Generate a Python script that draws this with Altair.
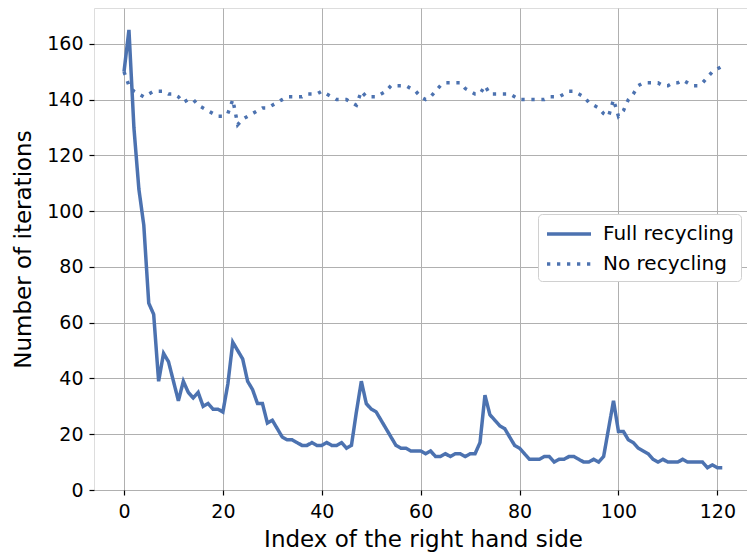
import altair as alt
import pandas as pd

x_index = list(range(122))

full_recycling = [
    150, 165, 130, 108, 95, 67, 63, 39, 49, 46,
    39, 32, 39, 35, 33, 35, 30, 31, 29, 29,
    28, 38, 53, 50, 47, 39, 36, 31, 31, 24,
    25, 22, 19, 18, 18, 17, 16, 16, 17, 16,
    16, 17, 16, 16, 17, 15, 16, 28, 39, 31,
    29, 28, 25, 22, 19, 16, 15, 15, 14, 14,
    14, 13, 14, 12, 12, 13, 12, 13, 13, 12,
    13, 13, 17, 34, 27, 25, 23, 22, 19, 16,
    15, 13, 11, 11, 11, 12, 12, 10, 11, 11,
    12, 12, 11, 10, 10, 11, 10, 12, 22, 32,
    21, 21, 18, 17, 15, 14, 13, 11, 10, 11,
    10, 10, 10, 11, 10, 10, 10, 10, 8, 9, 8, 8,
]

no_recycling = [
    150, 145, 143, 142, 141, 142, 143, 143, 143, 142,
    142, 141, 139, 140, 140, 138, 137, 136, 135, 134,
    134, 135, 140, 131, 133, 134, 135, 136, 137, 137,
    138, 139, 140, 141, 141, 141, 141, 142, 142, 142,
    143, 142, 141, 140, 140, 140, 139, 138, 143, 141,
    141, 141, 142, 143, 145, 145, 145, 145, 144, 143,
    141, 140, 141, 143, 145, 146, 146, 146, 146, 144,
    143, 142, 142, 145, 142, 142, 142, 142, 142, 141,
    140, 140, 140, 140, 140, 140, 141, 141, 141, 142,
    143, 143, 142, 141, 139, 138, 137, 135, 134, 140,
    134, 136, 140, 142, 145, 146, 146, 146, 146, 145,
    145, 146, 146, 147, 146, 145, 145, 146, 148, 150, 151, 152,
]

series_names = ["Full recycling", "No recycling"]
x_ticks = [0, 20, 40, 60, 80, 100, 120]
y_ticks = [0, 20, 40, 60, 80, 100, 120, 140, 160]

df = pd.DataFrame({
    "index": x_index + x_index,
    "iterations": full_recycling + no_recycling,
    "series": [series_names[0]] * len(x_index) + [series_names[1]] * len(x_index),
})

FONT = "DejaVu Sans"
BLUE = "#4c72b0"

chart = alt.Chart(df).mark_line(color=BLUE, strokeWidth=3.5, strokeCap="butt").encode(
    x=alt.X(
        "index:Q",
        scale=alt.Scale(domain=[-6.07, 126.0], nice=False, zero=False),
        axis=alt.Axis(
            title="Index of the right hand side",
            values=x_ticks,
            format="d",
            grid=True,
            gridColor="#b0b0b0",
            gridWidth=1,
            domain=False,
            tickColor="black",
            tickSize=5,
            tickWidth=1.2,
            labelFont=FONT,
            labelFontSize=19,
            labelColor="black",
            labelPadding=7,
            titleFont=FONT,
            titleFontSize=23,
            titleFontWeight="normal",
            titleColor="black",
            titlePadding=7,
            titleX=329,
        ),
    ),
    y=alt.Y(
        "iterations:Q",
        scale=alt.Scale(domain=[0, 172.85], nice=False, zero=False),
        axis=alt.Axis(
            title="Number of iterations",
            values=y_ticks,
            format="d",
            grid=True,
            gridColor="#b0b0b0",
            gridWidth=1,
            domain=False,
            tickColor="black",
            tickSize=5,
            tickWidth=1.2,
            labelFont=FONT,
            labelFontSize=19,
            labelColor="black",
            labelPadding=6,
            titleFont=FONT,
            titleFontSize=23,
            titleFontWeight="normal",
            titleColor="black",
            titlePadding=11,
        ),
    ),
    strokeDash=alt.StrokeDash(
        "series:N",
        scale=alt.Scale(domain=series_names, range=[[1, 0], [3.3, 6.7]]),
        legend=alt.Legend(
            title=None,
            orient="none",
            legendX=444,
            legendY=206,
            symbolType="M-2,0H2",
            symbolSize=484,
            symbolOffset=11,
            symbolStrokeWidth=3.5,
            symbolStrokeColor=BLUE,
            labelFont=FONT,
            labelFontSize=20,
            labelColor="black",
            labelOffset=21,
            rowPadding=7,
            strokeColor="#d0d0d0",
            fillColor="white",
            cornerRadius=4,
            padding=7,
        ),
    ),
    detail="series:N",
).properties(
    width=653,
    height=482,
    autosize=alt.AutoSizeParams(type="none"),
    padding={"left": 94, "top": 8, "right": 0, "bottom": 63},
).configure_view(
    stroke="black",
    strokeWidth=1.2,
).configure(background="white")

chart.save("out.html", embed_options={"renderer": "svg", "actions": False})
